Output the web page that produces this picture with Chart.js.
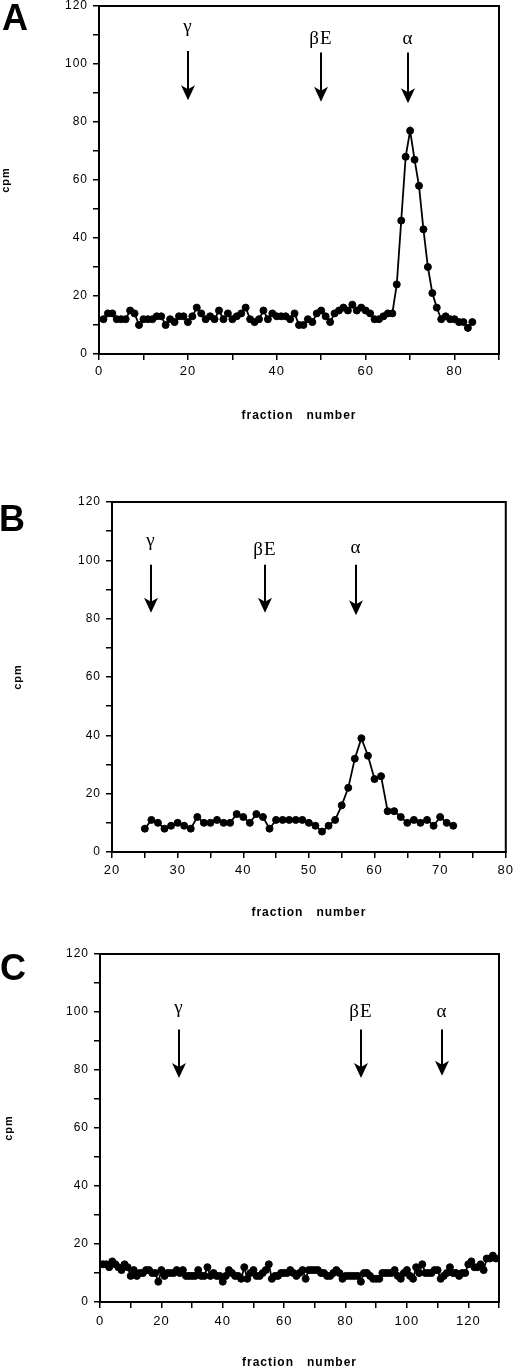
<!DOCTYPE html>
<html>
<head>
<meta charset="utf-8">
<script src="https://cdn.jsdelivr.net/npm/chart.js@4.4.0/dist/chart.umd.min.js"></script>
<style>
	body { margin: 0; background: #fff; width: 520px; height: 1370px; position: relative; overflow: hidden; }
	canvas { position: absolute; left: 0; }
	.panel-letter { position: absolute; z-index: 2; font: bold 36px "Liberation Sans", Arial, sans-serif; line-height: 36px; color: #000; }
</style>
</head>
<body>
<div class="panel-letter" style="top:0; left:2px">A</div>
<div class="panel-letter" style="top:501px; left:-1px">B</div>
<div class="panel-letter" style="top:950px; left:0">C</div>
<canvas id="chartA" width="520" height="440" style="top:0"></canvas>
<canvas id="chartB" width="520" height="460" style="top:470px"></canvas>
<canvas id="chartC" width="520" height="450" style="top:920px"></canvas>
<script>
// panel A: fractions 1..84
const firstFractionA = 1;
const cpmA = [12, 14, 14, 12, 12, 12, 15, 14, 10, 12,
	12, 12, 13, 13, 10, 12, 11, 13, 13, 11,
	13, 16, 14, 12, 13, 12, 15, 12, 14, 12,
	13, 14, 16, 12, 11, 12, 15, 12, 14, 13,
	13, 13, 12, 14, 10, 10, 12, 11, 14, 15,
	13, 11, 14, 15, 16, 15, 17, 15, 16, 15,
	14, 12, 12, 13, 14, 14, 24, 46, 68, 77,
	67, 58, 43, 30, 21, 16, 12, 13, 12, 12,
	11, 11, 9, 11];

// panel B: fractions 25..72
const firstFractionB = 25;
const cpmB = [8, 11, 10, 8, 9, 10, 9, 8, 12, 10,
	10, 11, 10, 10, 13, 12, 10, 13, 12, 8,
	11, 11, 11, 11, 11, 10, 9, 7, 9, 11,
	16, 22, 32, 39, 33, 25, 26, 14, 14, 12,
	10, 11, 10, 11, 9, 12, 10, 9];

// panel C: fractions 0..130
const firstFractionC = 0;
const cpmC = [13, 13, 13, 12, 14, 13, 12, 11, 13, 12,
	9, 11, 9, 10, 10, 11, 11, 10, 10, 7,
	11, 9, 10, 10, 10, 11, 10, 11, 9, 9,
	9, 9, 11, 9, 9, 12, 9, 10, 9, 9,
	7, 9, 11, 10, 9, 9, 8, 12, 8, 10,
	11, 9, 9, 10, 11, 13, 8, 9, 9, 10,
	10, 10, 11, 10, 9, 10, 11, 8, 11, 11,
	11, 11, 10, 10, 9, 9, 10, 11, 10, 8,
	9, 9, 9, 9, 9, 7, 10, 10, 9, 8,
	8, 8, 10, 10, 10, 10, 11, 9, 8, 10,
	11, 9, 8, 12, 10, 13, 10, 10, 10, 11,
	11, 8, 9, 10, 12, 10, 10, 9, 10, 10,
	13, 14, 12, 12, 13, 11, 15, 15, 16, 15, 15];

// marker arrows (fraction where each species runs)
const markerLabels = ["γ", "βE", "α"];
const markersA = [20, 50, 69.5];
const markersB = [26, 43.3, 57.2];
const markersC = [25.7, 85.2, 111.5];

const SANS = '"Liberation Sans", Arial, sans-serif';

// letter-spaced text like the original print; canvas state is reset on resize so set it often
const spacing = {
	id: 'spacing',
	beforeLayout: function (chart) { chart.ctx.letterSpacing = '1px'; },
	beforeDraw: function (chart) { chart.ctx.letterSpacing = '1px'; }
};

// closed box round the plot area
const frame = {
	id: 'frame',
	afterDraw: function (chart) {
		const ctx = chart.ctx, a = chart.chartArea;
		ctx.save();
		ctx.strokeStyle = '#000';
		ctx.lineWidth = 2;
		ctx.strokeRect(a.left, a.top, a.right - a.left, a.bottom - a.top);
		ctx.restore();
	}
};

const arrows = {
	id: 'arrows',
	afterDatasetsDraw: function (chart, args, opts) {
		const ctx = chart.ctx, x = chart.scales.x, y = chart.scales.y;
		ctx.save();
		ctx.fillStyle = '#000';
		ctx.strokeStyle = '#000';
		ctx.lineWidth = 2;
		ctx.font = '19px "Liberation Serif", "Times New Roman", serif';
		ctx.textAlign = 'center';
		ctx.textBaseline = 'alphabetic';
		opts.labels.forEach(function (lab, i) {
			const px = Math.round(x.getPixelForValue(opts.at[i]));
			const top = y.getPixelForValue(opts.top[i]);
			const tip = y.getPixelForValue(opts.tip[i]);
			ctx.fillText(lab, px, y.getPixelForValue(opts.labelY[i]));
			ctx.beginPath();
			ctx.moveTo(px, top);
			ctx.lineTo(px, tip - 10);
			ctx.stroke();
			ctx.beginPath();
			ctx.moveTo(px, tip);
			ctx.lineTo(px - 7, tip - 15);
			ctx.lineTo(px, tip - 11);
			ctx.lineTo(px + 7, tip - 15);
			ctx.closePath();
			ctx.fill();
		});
		ctx.restore();
	}
};

function make_chart(id, p) {
	const points = p.values.map(function (v, i) {
		return { x: p.first + i, y: v };
	});
	return new Chart(document.getElementById(id), {
		type: 'line',
		data: {
			datasets: [{
				data: points,
				borderColor: '#000',
				borderWidth: 1.8,
				backgroundColor: '#000',
				pointBackgroundColor: '#000',
				pointBorderColor: '#000',
				pointBorderWidth: 1,
				pointRadius: 3.5,
				tension: 0
			}]
		},
		options: {
			responsive: false,
			animation: false,
			layout: { padding: { top: p.top, right: p.right, left: 0, bottom: 0 } },
			plugins: {
				legend: { display: false },
				tooltip: { enabled: false },
				arrows: p.arrows
			},
			scales: {
				x: {
					type: 'linear',
					min: p.xMin,
					max: p.xMax,
					afterFit: function (scale) { scale.height = p.xHeight; },
					border: { display: true, color: '#000', width: 2 },
					grid: { drawOnChartArea: false, color: '#000', tickLength: 6, lineWidth: 1.5 },
					ticks: {
						stepSize: p.xStep,
						color: '#000',
						padding: p.xTickPad,
						maxRotation: 0,
						autoSkip: false,
						font: { family: SANS, size: 13, lineHeight: 1 },
						callback: function (v) { return v % p.xLabelEvery === 0 ? v : ''; }
					},
					title: {
						display: true,
						text: 'fraction   number',
						color: '#000',
						padding: p.xTitlePad,
						font: { family: SANS, size: 12, weight: 'bold', lineHeight: 1 }
					}
				},
				y: {
					min: 0,
					max: 120,
					afterFit: function (scale) {
						scale.width = p.yWidth;
						// let the top label hang over the frame instead of pushing it down
						scale.paddingTop = 0;
						scale.paddingBottom = 0;
					},
					border: { display: true, color: '#000', width: 2 },
					grid: { drawOnChartArea: false, color: '#000', tickLength: 6, lineWidth: 1.5 },
					ticks: {
						stepSize: 10,
						color: '#000',
						padding: 5,
						autoSkip: false,
						font: { family: SANS, size: 12, lineHeight: 1 },
						callback: function (v) { return v % 20 === 0 ? v : ''; }
					},
					title: {
						display: true,
						text: 'cpm',
						color: '#000',
						padding: p.yTitlePad,
						font: { family: SANS, size: 11, weight: 'bold', lineHeight: 1 }
					}
				}
			}
		},
		plugins: [spacing, frame, arrows]
	});
}

make_chart('chartA', {
	first: firstFractionA, values: cpmA,
	xMin: 0, xMax: 90, xStep: 10, xLabelEvery: 20,
	top: 6, right: 21, yWidth: 99, xHeight: 86,
	xTickPad: 5, xTitlePad: 18, yTitlePad: 0,
	arrows: { labels: markerLabels, at: markersA, labelY: [111, 107, 107], top: [104.5, 104, 104], tip: [87.5, 87, 86.5] }
});

make_chart('chartB', {
	first: firstFractionB, values: cpmB,
	xMin: 20, xMax: 80, xStep: 5, xLabelEvery: 10,
	top: 32, right: 9, yWidth: 112, xHeight: 78,
	xTickPad: 6, xTitlePad: 11, yTitlePad: 12,
	arrows: { labels: markerLabels, at: markersB, labelY: [105, 102, 102.5], top: [98.5, 98.5, 98.5], tip: [82, 82, 81.2] }
});

make_chart('chartC', {
	first: firstFractionC, values: cpmC,
	xMin: 0, xMax: 130, xStep: 10, xLabelEvery: 20,
	top: 34, right: 21, yWidth: 100, xHeight: 68,
	xTickPad: 7, xTitlePad: 1, yTitlePad: 3,
	arrows: { labels: markerLabels, at: markersC, labelY: [99.7, 98.3, 98.3], top: [94, 94, 94], tip: [77.2, 77.2, 78] }
});
</script>
</body>
</html>
